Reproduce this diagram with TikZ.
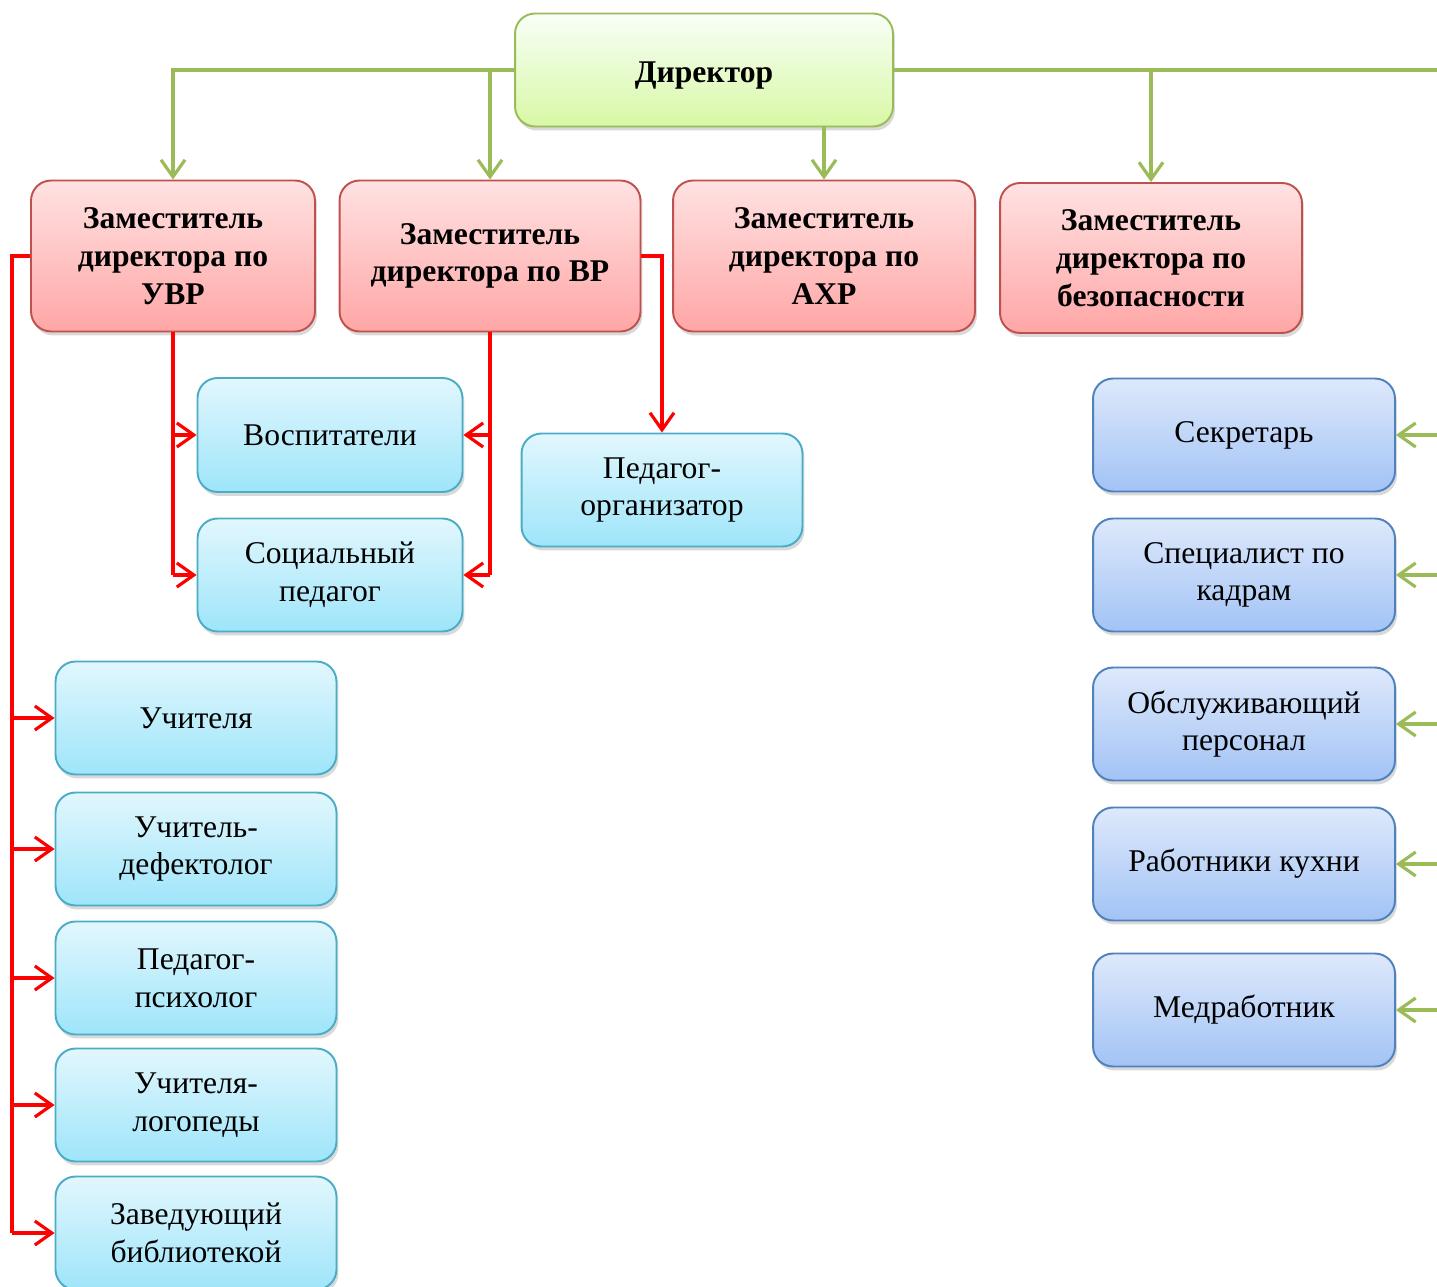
\documentclass[tikz,border=0pt]{standalone}
\usepackage{fontspec}
\setmainfont{Liberation Serif}
\usetikzlibrary{shadows, arrows.meta, positioning, calc}

\definecolor{gline}{HTML}{9BBB59}
\definecolor{rline}{HTML}{FF0000}

\begin{document}
\begin{tikzpicture}[x=0.02cm, y=-0.02cm,
    box/.style={rounded corners=0.4cm, line width=1.1pt, align=center, inner sep=2pt,
      font=\fontsize{18}{21.5}\selectfont,
      drop shadow={opacity=0.3, shadow xshift=0.04cm, shadow yshift=-0.08cm}},
    headbox/.style={box, draw=gline, top color=green!3!white, bottom color={rgb,255:red,216;green,248;blue,165},
      font=\fontsize{18}{21.5}\selectfont\bfseries},
    depbox/.style={box, draw={rgb,255:red,192;green,80;blue,77}, top color={rgb,255:red,255;green,226;blue,226},
      bottom color={rgb,255:red,255;green,166;blue,166}, font=\fontsize{18}{21.5}\selectfont\bfseries,
      minimum height=3.02cm},
    staffbox/.style={box, draw={rgb,255:red,75;green,172;blue,198}, top color={rgb,255:red,226;green,247;blue,253},
      bottom color={rgb,255:red,158;green,229;blue,250}, minimum height=2.26cm},
    servbox/.style={box, draw={rgb,255:red,79;green,129;blue,189}, top color={rgb,255:red,222;green,233;blue,251},
      bottom color={rgb,255:red,162;green,195;blue,245}, minimum height=2.26cm, minimum width=6.04cm},
    glink/.style={draw=gline, line width=1.8pt},
    garrow/.style={glink, -{Straight Barb[length=0.34cm, width=0.48cm, line width=1.8pt]}},
    rlink/.style={draw=rline, line width=1.8pt},
    rarrow/.style={rlink, -{Straight Barb[length=0.34cm, width=0.48cm, line width=1.8pt]}}]
  \useasboundingbox (0,0) rectangle (1437,1287);

  % top
  \node[headbox, minimum width=7.56cm, minimum height=2.26cm, text height=0.62cm] (dir) at (704,70) {Директор};

  % deputies
  \node[depbox, minimum width=5.68cm] (uvr) at (173,256) {Заместитель\\директора по\\УВР};
  \node[depbox, minimum width=6.02cm] (vr) at (490,256) {Заместитель\\директора по ВР};
  \node[depbox, minimum width=6.04cm] (ahr) at (824,256) {Заместитель\\директора по\\АХР};
  \node[depbox, minimum width=6.04cm, minimum height=3.0cm] (bez) at (1151,258) {Заместитель\\директора по\\безопасности};

  % middle
  \node[staffbox, minimum width=5.3cm, minimum height=2.28cm] (vosp) at (330,435) {Воспитатели};
  \node[staffbox, minimum width=5.3cm] (soc) at (330,575) {Социальный\\педагог};
  \node[staffbox, minimum width=5.62cm] (porg) at (662,490) {Педагог-\\организатор};

  % left column
  \foreach \n/\y/\t in {uch/718/{Учителя}, def/849/{Учитель-\\дефектолог}, psy/978/{Педагог-\\психолог},
      log/1105/{Учителя-\\логопеды}, zav/1233/{Заведующий\\библиотекой}} {
    \node[staffbox, minimum width=5.62cm] (\n) at (196,\y) {\t};
  }

  % right column
  \foreach \n/\y/\t in {sek/435/{Секретарь}, kadr/575/{Специалист по\\кадрам}, obsl/724/{Обслуживающий\\персонал},
      kuh/864/{Работники кухни}, med/1010/{Медработник}} {
    \node[servbox] (\n) at (1244,\y) {\t};
  }

  % green links
  \coordinate (edge) at (1445,70);
  \draw[garrow] (dir.west) -| (uvr.north);
  \draw[garrow] (vr.north |- dir.west) -- (vr.north);
  \draw[garrow] (ahr.north |- dir.south) -- (ahr.north);
  \draw[glink] (dir.east) -- (edge);
  \draw[garrow] (bez.north |- dir.east) -- (bez.north);
  \foreach \n in {sek,kadr,obsl,kuh,med}
    \draw[garrow] (\n.east -| edge) -- (\n.east);

  % red links
  \coordinate (rl) at (12,256);
  \draw[rlink] (uvr.west) -- (rl) -- (rl |- zav.west);
  \foreach \n in {uch,def,psy,log,zav}
    \draw[rarrow] (rl |- \n.west) -- (\n.west);
  \draw[rlink] (uvr.south) -- (uvr.south |- soc.west);
  \draw[rlink] (vr.south) -- (vr.south |- soc.east);
  \foreach \n in {vosp,soc} {
    \draw[rarrow] (uvr.south |- \n.west) -- (\n.west);
    \draw[rarrow] (vr.south |- \n.east) -- (\n.east);
  }
  \draw[rarrow] (vr.east) -| (porg.north);
\end{tikzpicture}
\end{document}
